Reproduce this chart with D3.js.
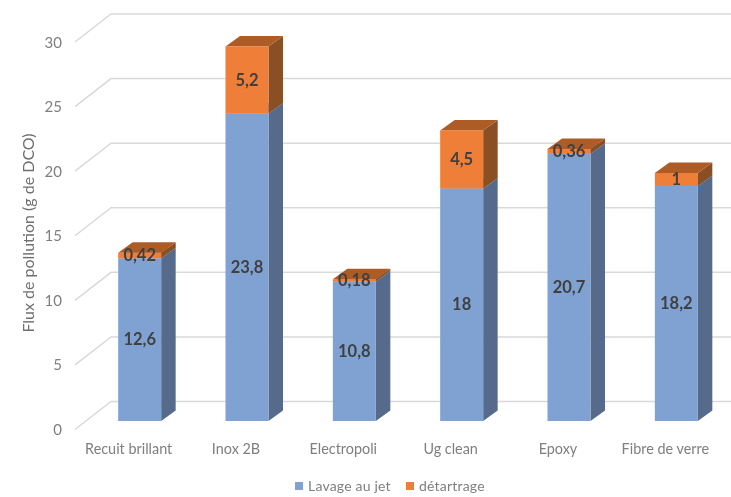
<!DOCTYPE html>
<html><head><meta charset="utf-8">
<script src="https://cdn.jsdelivr.net/npm/d3@7"></script>
<style>html,body{margin:0;padding:0;background:#fff}svg{display:block;font-family:Lato,sans-serif}</style>
</head><body><svg id="c" width="731" height="497"></svg>
<script>
const categories = ["Recuit brillant","Inox 2B","Electropoli","Ug clean","Epoxy","Fibre de verre"];
const lavage = [12.6,23.8,10.8,18,20.7,18.2];
const detartrage = [0.42,5.2,0.18,4.5,0.36,1];
const lavageLabels = ["12,6","23,8","10,8","18","20,7","18,2"];
const detartrageLabels = ["0,42","5,2","0,18","4,5","0,36","1"];
const ticks = [0,5,10,15,20,25,30];

const svg = d3.select("#c");
const g = svg.append("g").attr("filter","url(#soft)");
svg.append("defs").append("filter").attr("id","soft").append("feGaussianBlur").attr("stdDeviation",0.5);

const x = d3.scaleBand().domain(categories).range([75,719]);
const y = d3.scaleLinear().domain([0,30]).range([429.5,42]);
const wallDX = 36, wallDY = -28;
const barW = 43, frontDX = 11, frontDY = -8.5, sideDX = 14.5, sideDY = -10.5;

ticks.forEach(t=>{
  g.append("path")
   .attr("d",d3.line()([[75,y(t)],[75+wallDX,y(t)+wallDY],[731,y(t)+wallDY]]))
   .attr("fill","none").attr("stroke","#d9d9d9").attr("stroke-width",1.5);
  g.append("text").attr("x",62).attr("y",y(t)+5.5).attr("text-anchor","end")
   .attr("font-size",15).attr("fill","#7f7f7f").text(t);
});

const poly = pts => d3.line()(pts)+"Z";
function seg(cat,v0,v1,front,top,side){
  const xl = x(cat)+x.bandwidth()/2-barW/2+frontDX, xr = xl+barW;
  const y0 = y(v0)+frontDY, y1 = y(v1)+frontDY;
  g.append("path").attr("d",poly([[xr,y0],[xr+sideDX,y0+sideDY],[xr+sideDX,y1+sideDY],[xr,y1]])).attr("fill",side);
  g.append("path").attr("d",poly([[xl,y1],[xr,y1],[xr+sideDX,y1+sideDY],[xl+sideDX,y1+sideDY]])).attr("fill",top);
  g.append("rect").attr("x",xl).attr("y",y1).attr("width",barW).attr("height",y0-y1).attr("fill",front);
}
function lab(cat,v0,v1,s){
  g.append("text").attr("x",x(cat)+x.bandwidth()/2+frontDX).attr("y",(y(v0)+y(v1))/2+frontDY+5.5)
   .attr("text-anchor","middle").attr("font-size",16.5).attr("font-weight",700).attr("fill","#404040").text(s);
}
categories.forEach((c,i)=>{
  seg(c,0,lavage[i],"#7fa2d3","#7fa2d3","#566b8c");
  seg(c,lavage[i],lavage[i]+detartrage[i],"#ef7f37","#ae5c28","#8a4f22");
});
categories.forEach((c,i)=>{
  lab(c,0,lavage[i],lavageLabels[i]);
  lab(c,lavage[i],lavage[i]+detartrage[i],detartrageLabels[i]);
  g.append("text").attr("x",x(c)+x.bandwidth()/2).attr("y",453.5).attr("text-anchor","middle")
   .attr("font-size",14.4).attr("fill","#7f7f7f").text(c);
});
g.append("text").attr("transform","translate(34,233) rotate(-90)").attr("text-anchor","middle")
 .attr("font-size",16).attr("fill","#6f6f6f").text("Flux de pollution (g de DCO)");

const legend = [["Lavage au jet","#7fa2d3",295,308],["détartrage","#ef7f37",406,419]];
legend.forEach(([t,col,sx,tx])=>{
  g.append("rect").attr("x",sx).attr("y",482).attr("width",8).attr("height",8).attr("fill",col);
  g.append("text").attr("x",tx).attr("y",491).attr("font-size",14).attr("letter-spacing",0.2).attr("fill","#7f7f7f").text(t);
});
</script></body></html>
